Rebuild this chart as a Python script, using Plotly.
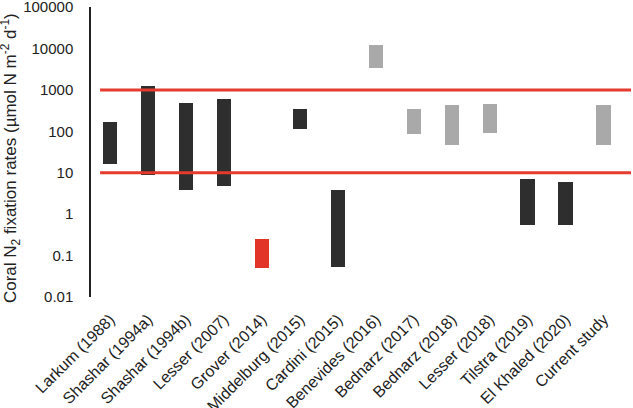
import plotly.graph_objects as go

studies = ["Larkum (1988)", "Shashar (1994a)", "Shashar (1994b)", "Lesser (2007)",
           "Grover (2014)", "Middelburg (2015)", "Cardini (2015)", "Benevides (2016)",
           "Bednarz (2017)", "Bednarz (2018)", "Lesser (2018)", "Tilstra (2019)",
           "El Khaled (2020)", "Current study"]
low_rate = [16, 9, 3.8, 4.7, 0.05, 115, 0.052, 3300, 87, 48, 93, 0.56, 0.56, 48]
high_rate = [166, 1250, 490, 600, 0.25, 340, 3.8, 12000, 340, 430, 445, 6.9, 6.0, 430]
groups = ["dark", "dark", "dark", "dark", "red", "dark", "dark", "grey",
          "grey", "grey", "grey", "dark", "dark", "grey"]
threshold_lines = [10, 1000]

palette = {"dark": "#2e2e2e", "grey": "#a9a9a9", "red": "#e3342a"}
colors = [palette[g] for g in groups]
xs = list(range(len(studies)))

fig = go.Figure()
fig.add_trace(go.Bar(
    x=xs,
    base=low_rate,
    y=[h - l for h, l in zip(high_rate, low_rate)],
    width=0.38,
    marker=dict(color=colors, line=dict(width=0)),
    showlegend=False,
    hoverinfo="skip",
))

for v in threshold_lines:
    fig.add_shape(type="line", xref="x", yref="y", x0=-0.26, x1=13.72, y0=v, y1=v,
                  line=dict(color="#e53a2e", width=3), layer="above")

fig.add_annotation(
    text="Coral N<sub>2</sub> fixation rates (µmol N m<sup>-2</sup> d<sup>-1</sup>)",
    xref="paper", yref="paper", x=0, y=0.479, xanchor="center", yanchor="middle",
    xshift=-81, textangle=-90, showarrow=False, font=dict(size=17),
)

fig.update_layout(
    width=633, height=408,
    margin=dict(l=91, r=2, t=7, b=111),
    plot_bgcolor="white", paper_bgcolor="white",
    font=dict(family="Liberation Sans, Arial, sans-serif", size=16, color="#222222"),
    xaxis=dict(
        range=[-0.5, 13.72], tickmode="array", tickvals=xs, ticktext=studies,
        tickangle=-45, showline=False, showgrid=False, zeroline=False, ticks="",
        ticklabelstandoff=9, tickfont=dict(size=16), automargin=False,
        ticklabeloverflow="allow",
    ),
    yaxis=dict(
        type="log", range=[-2.003, 5.003], showline=True, linecolor="#222222", linewidth=1.5,
        showgrid=False, zeroline=False, ticks="",
        tickvals=[0.01, 0.1, 1, 10, 100, 1000, 10000, 100000],
        ticktext=["0.01", "0.1", "1", "10", "100", "1000", "10000", "100000"],
        ticklabelstandoff=13, tickfont=dict(size=15), automargin=False,
        ticklabeloverflow="allow",
    ),
    bargap=0,
)

fig.write_html("out.html", post_script="document.body.style.margin='0px';",
               config={"displayModeBar": False})
